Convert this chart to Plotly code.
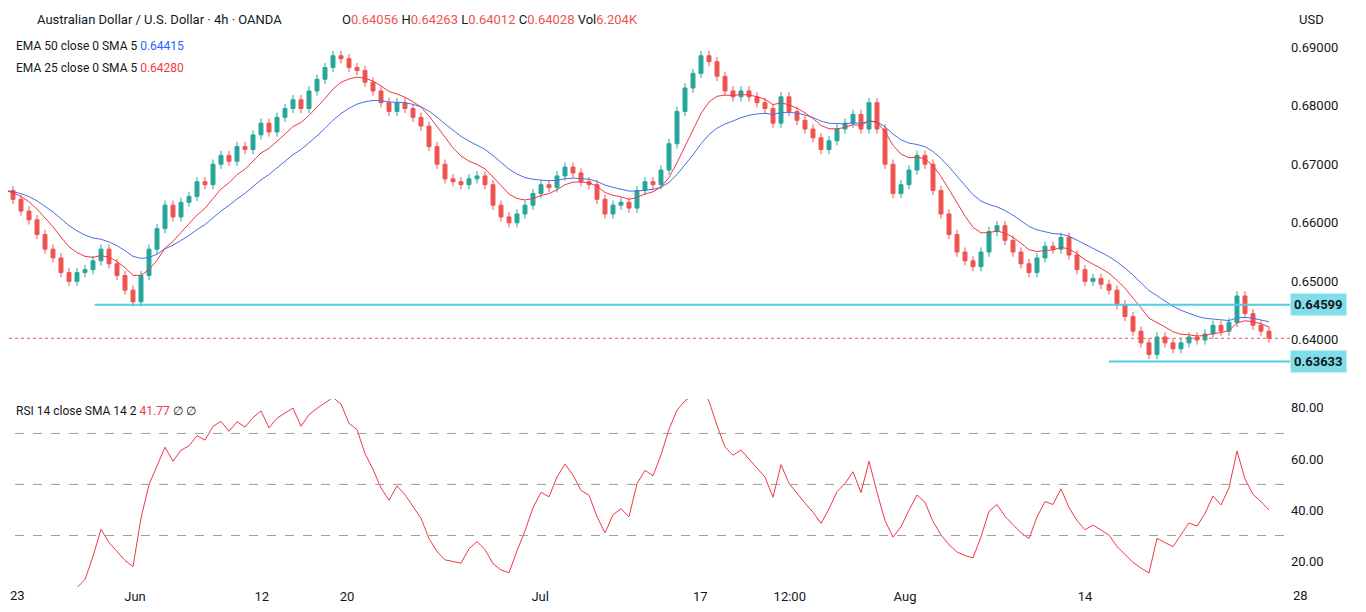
import pandas as pd
import plotly.graph_objects as go
from plotly.subplots import make_subplots

# approximate closes, one bar per ~3 four-hour candles
closes = [0.6655, 0.664, 0.662, 0.6605, 0.658, 0.6555, 0.654, 0.6515, 0.650, 0.6515,
          0.652, 0.6535, 0.6555, 0.653, 0.651, 0.6485, 0.6465, 0.651, 0.6555, 0.659,
          0.663, 0.661, 0.6635, 0.6645, 0.667, 0.6665, 0.670, 0.6715, 0.6705, 0.673,
          0.6725, 0.675, 0.677, 0.6755, 0.678, 0.6795, 0.681, 0.6795, 0.6825, 0.6845,
          0.6865, 0.6885, 0.688, 0.6865, 0.686, 0.684, 0.6825, 0.6805, 0.679, 0.6805,
          0.6795, 0.678, 0.6765, 0.673, 0.670, 0.6675, 0.667, 0.6665, 0.6675, 0.668,
          0.6665, 0.663, 0.661, 0.660, 0.6615, 0.663, 0.665, 0.6665, 0.666, 0.668,
          0.6695, 0.6685, 0.667, 0.6665, 0.664, 0.6615, 0.663, 0.6635, 0.6625, 0.6655,
          0.667, 0.6665, 0.669, 0.6735, 0.679, 0.683, 0.6855, 0.6885, 0.6875, 0.685,
          0.6825, 0.6815, 0.6825, 0.6815, 0.6805, 0.6795, 0.677, 0.6815, 0.679, 0.6775,
          0.676, 0.6745, 0.6725, 0.674, 0.676, 0.677, 0.6785, 0.676, 0.6805, 0.676,
          0.670, 0.665, 0.6665, 0.669, 0.6715, 0.670, 0.6655, 0.6615, 0.658, 0.655,
          0.6535, 0.6525, 0.655, 0.6585, 0.6595, 0.657, 0.655, 0.653, 0.6515, 0.654,
          0.656, 0.6555, 0.6575, 0.6545, 0.652, 0.650, 0.6505, 0.6495, 0.6485, 0.646,
          0.644, 0.6415, 0.6395, 0.6375, 0.6405, 0.6395, 0.6385, 0.6395, 0.6405, 0.640,
          0.641, 0.6425, 0.6415, 0.643, 0.6475, 0.6445, 0.6425, 0.6415, 0.6403]
first_open = 0.667
wick = 0.0008

support_hi = 0.64599
support_lo = 0.63633
last_price = 0.64028

tick_idx = [16.25, 32.1, 42.75, 66.9, 86.9, 98.1, 112.5, 135]
tick_txt = ["Jun", "12", "20", "Jul", "17", "12:00", "Aug", "14"]

df = pd.DataFrame({"close": closes})
df["open"] = df["close"].shift(1).fillna(first_open)
df["high"] = df[["open", "close"]].max(axis=1) + wick
df["low"] = df[["open", "close"]].min(axis=1) - wick
df["ema50"] = df["close"].ewm(span=17, adjust=False).mean()
df["ema25"] = df["close"].ewm(span=8, adjust=False).mean()
d = df["close"].diff().fillna(-0.0015)
up = d.clip(lower=0).ewm(alpha=1 / 9, adjust=False).mean()
dn = (-d.clip(upper=0)).ewm(alpha=1 / 9, adjust=False).mean()
df["rsi"] = 100 * up / (up + dn)
x = list(range(len(df)))

fig = make_subplots(rows=2, cols=1, shared_xaxes=True)
fig.add_trace(go.Candlestick(x=x, open=df["open"], high=df["high"], low=df["low"], close=df["close"],
                             increasing=dict(line=dict(color="#26a69a", width=1), fillcolor="#26a69a"),
                             decreasing=dict(line=dict(color="#ef5350", width=1), fillcolor="#ef5350"),
                             showlegend=False), row=1, col=1)
fig.add_trace(go.Scatter(x=x, y=df["ema50"], mode="lines", line=dict(color="#4a6fe3", width=1), showlegend=False), row=1, col=1)
fig.add_trace(go.Scatter(x=x, y=df["ema25"], mode="lines", line=dict(color="#f23645", width=1), showlegend=False), row=1, col=1)
fig.add_trace(go.Scatter(x=x, y=df["rsi"], mode="lines", line=dict(color="#f23645", width=1), showlegend=False), row=2, col=1)

fig.add_shape(type="line", x0=11.2, x1=161.5, y0=support_hi, y1=support_hi, line=dict(color="#4dd0e1", width=2), row=1, col=1)
fig.add_shape(type="line", x0=138, x1=161.5, y0=support_lo, y1=support_lo, line=dict(color="#4dd0e1", width=2), row=1, col=1)
fig.add_shape(type="line", x0=-1, x1=161.5, y0=last_price, y1=last_price, line=dict(color="#ef5350", width=1, dash="dot"), row=1, col=1)
for lvl in [70, 50, 30]:
    fig.add_shape(type="line", x0=-1, x1=161.5, y0=lvl, y1=lvl, line=dict(color="#9e9e9e", width=1, dash="dash"), row=2, col=1)

for v in [support_hi, support_lo]:
    fig.add_annotation(x=1.0, xref="paper", xanchor="left", y=v, yref="y", text=f"<b>{v:.5f}</b>", showarrow=False,
                       bgcolor="#80deea", font=dict(size=13, color="#131722"), borderpad=3)

# page offset of 8px (browser body margin)
OFF = 8
PW, PH = 1282, 579
ann = [
    (35, 20, "Australian Dollar / U.S. Dollar · 4h · OANDA", 13, "left"),
    (340, 20, "O<span style='color:#ef5350'>0.64056</span> H<span style='color:#ef5350'>0.64263</span> "
              "L<span style='color:#ef5350'>0.64012</span> C<span style='color:#ef5350'>0.64028</span> "
              "Vol<span style='color:#ef5350'>6.204K</span>", 13, "left"),
    (14, 46, "EMA 50 close 0 SMA 5 <span style='color:#2962ff'>0.64415</span>", 12, "left"),
    (14, 68, "EMA 25 close 0 SMA 5 <span style='color:#f23645'>0.64280</span>", 12, "left"),
    (14, 411, "RSI 14 close SMA 14 2 <span style='color:#f23645'>41.77</span> ∅ ∅", 12, "left"),
    (1297, 20, "USD", 13, "left"),
    (1300, 595, "28", 13, "center"),
    (8, 595, "23", 13, "left"),
]
for px, py, t, s, xa in ann:
    fig.add_annotation(x=(px - OFF) / PW, y=1 - (py - OFF) / PH, xref="paper", yref="paper", xanchor=xa,
                       yanchor="middle", text=t, showarrow=False, font=dict(size=s, color="#131722"))

fig.update_layout(width=1358, height=604, paper_bgcolor="white", plot_bgcolor="white",
                  margin=dict(l=0, r=76, t=0, b=25, autoexpand=False),
                  font=dict(family="Roboto, Liberation Sans", color="#131722"),
                  xaxis_rangeslider_visible=False)
fig.update_layout(yaxis=dict(domain=[1 - 387 / PH, 1]), yaxis2=dict(domain=[0, 1 - 391 / PH]))
fig.update_xaxes(range=[0.375, 160.625], showgrid=False, zeroline=False, showline=False)
fig.update_xaxes(tickvals=tick_idx, ticktext=tick_txt, tickfont=dict(size=13), ticks="", row=2, col=1)
fig.update_yaxes(side="right", showgrid=False, zeroline=False, ticks="", tickfont=dict(size=13))
fig.update_yaxes(range=[0.6306, 0.69666], tickvals=[0.64, 0.65, 0.66, 0.67, 0.68, 0.69], tickformat=".5f", row=1, col=1)
fig.update_yaxes(range=[9.8, 83.5], tickvals=[20, 40, 60, 80], tickformat=".2f", row=2, col=1)
fig.write_html("out.html")
